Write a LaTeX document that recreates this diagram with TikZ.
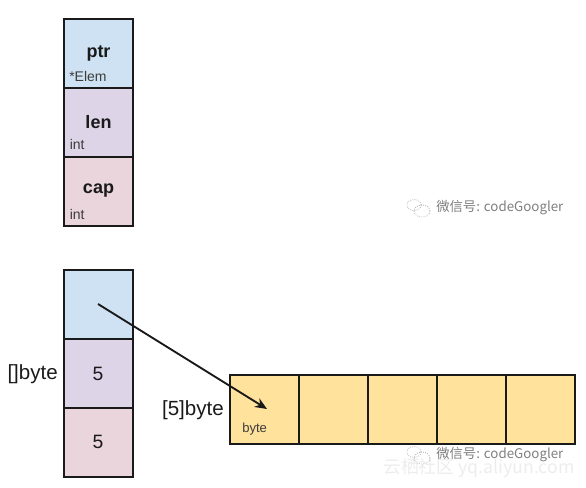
\documentclass[tikz,border=0pt]{standalone}
\usepackage{fontspec}
\setmainfont{Liberation Sans}
\newfontfamily\cjk{Noto Sans CJK SC}
\usetikzlibrary{arrows.meta}
\definecolor{cblue}{HTML}{CFE2F3}
\definecolor{cpurple}{HTML}{DDD4E8}
\definecolor{cpink}{HTML}{EAD5DC}
\definecolor{cyellow}{HTML}{FFE29C}
\definecolor{ink}{HTML}{1A1A1A}
\definecolor{wm}{HTML}{7F7F7F}
\tikzset{
  cell/.style={draw=ink,line width=1.5pt,outer sep=0pt,minimum width=51.75pt,minimum height=51.75pt,inner sep=0pt,anchor=north west,text=ink},
  big/.style={font=\bfseries\fontsize{13.5pt}{15pt}\selectfont,text=ink},
  num/.style={font=\fontsize{14.5pt}{16pt}\selectfont,text=ink},
  small/.style={font=\fontsize{10.5pt}{12pt}\selectfont,text=ink!85,inner sep=0pt,anchor=base west},
  tiny/.style={font=\fontsize{9.8pt}{11pt}\selectfont,text=ink!85,inner sep=0pt,anchor=base west},
  lbl/.style={font=\fontsize{15.4pt}{17pt}\selectfont,text=ink,inner sep=0pt},
  mark1/.style={font=\cjk\fontsize{10pt}{11pt}\selectfont,text=wm,inner sep=0pt,anchor=west},
  mark2/.style={font=\cjk\fontsize{13.3pt}{14pt}\selectfont,text=black!7,inner sep=0pt,anchor=west},
  wechat/.style={draw=wm!60,densely dotted,line width=.6pt}
}
\begin{document}
\begin{tikzpicture}[x=0.75pt,y=-0.75pt]
\useasboundingbox (0,0) rectangle (586,487);
\fill[white] (0,0) rectangle (586,487);
% upper struct
\node[cell,fill=cblue] (ptr) at (64,19) {};
\node[cell,fill=cpurple] (len) at (64,88) {};
\node[cell,fill=cpink] (cap) at (64,157) {};
\node[big] (ptrt) at (98.5,53) {ptr};
\node[big] (lent) at (98.5,122) {len};
\node[big] (capt) at (98.5,191) {cap};
\node[small] (ptrs) at (69,81) {*Elem};
\node[small] (lens) at (69.5,149) {int};
\node[small] (caps) at (69.5,219) {int};
% lower slice
\node[cell,fill=cblue] (s0) at (64,270) {};
\node[cell,fill=cpurple] (s1) at (64,339) {};
\node[cell,fill=cpink] (s2) at (64,408) {};
\node[num] (s1t) at (98,373.5) {5};
\node[num] (s2t) at (98,442) {5};
\node[lbl,anchor=east] (slab) at (58,374) {[]byte};
% byte array
\node[cell,fill=cyellow] (b0) at (229.5,375) {};
\node[cell,fill=cyellow] (b1) at (298.5,375) {};
\node[cell,fill=cyellow] (b2) at (367.5,375) {};
\node[cell,fill=cyellow] (b3) at (436.5,375) {};
\node[cell,fill=cyellow] (b4) at (505.5,375) {};
\node[tiny] (bt) at (242,432) {byte};
\node[lbl,anchor=east] (blab) at (224,410) {[5]byte};
% pointer
\coordinate (from) at (98,304);
\coordinate (to) at (267,409);
\draw[-{Stealth[length=9pt,width=7.5pt]},line width=1.4pt,draw=black!90] (from) -- (to);
% watermarks
\node[mark1] (w1) at (436,207.5) {微信号: codeGoogler};
\draw[wechat] (414,205) ellipse (7 and 5.5);
\draw[wechat] (422,211) ellipse (8 and 6);
\node[mark2] (w3) at (383,468) {云栖社区 yq.aliyun.com};
\node[mark1] (w2) at (436,455) {微信号: codeGoogler};
\draw[wechat] (414,452) ellipse (7 and 5.5);
\draw[wechat] (422,458) ellipse (8 and 6);
\end{tikzpicture}
\end{document}
